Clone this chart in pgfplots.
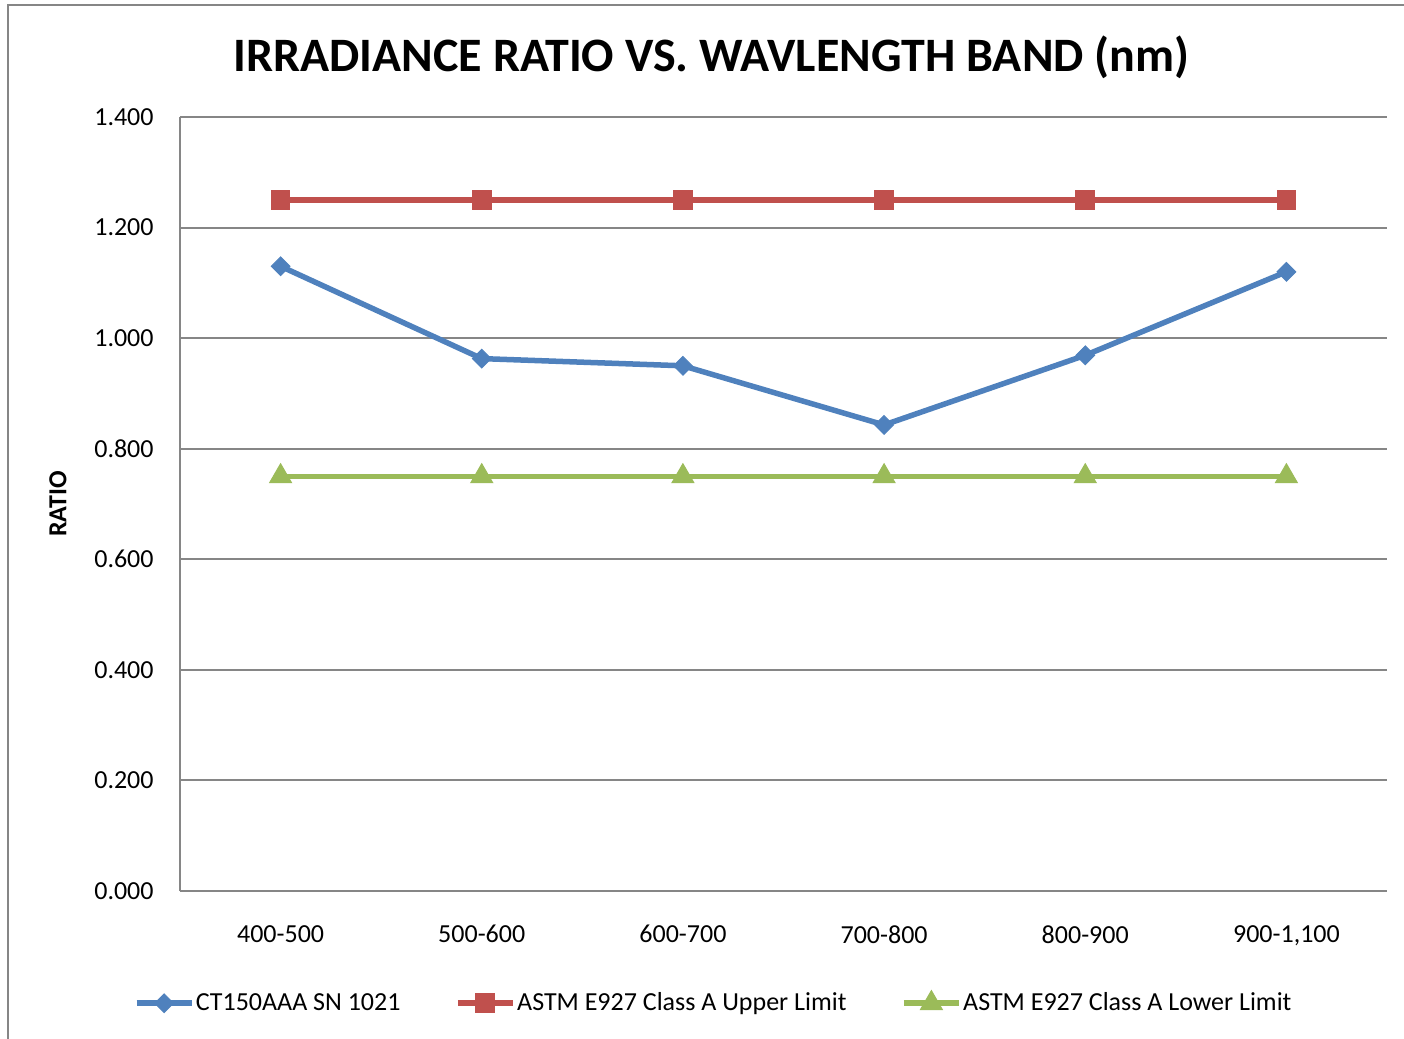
\documentclass[border=0pt]{standalone}
\usepackage{pgfplots}
\pgfplotsset{compat=1.18}
\usepackage{fontspec}
\setmainfont{Carlito}
\definecolor{xlblue}{RGB}{79,129,189}
\definecolor{xlred}{RGB}{192,80,77}
\definecolor{xlgreen}{RGB}{155,187,89}
\definecolor{xlgrid}{RGB}{134,134,134}
\begin{document}
\begin{tikzpicture}
  % one pixel of the reference = 0.5pt, origin at its top left corner
  \path[use as bounding box] (0pt,0pt) rectangle (702pt,-519.5pt);
  \draw[xlgrid, line width=1pt] (4pt,-519.5pt) -- (4pt,-2.5pt) -- (702pt,-2.5pt);
  \node[font=\fontsize{24}{28}\selectfont\bfseries] at (355.75pt,-28.5pt)
    {IRRADIANCE RATIO VS. WAVLENGTH BAND (nm)};
  \node[font=\fontsize{13}{15}\selectfont\bfseries, rotate=90] at (29pt,-252pt) {RATIO};
  \begin{axis}[
      at={(90pt,-445.5pt)}, anchor=south west,
      scale only axis,
      width=603.5pt, height=387pt,
      xmin=-0.5, xmax=5.5,
      ymin=0, ymax=1.4,
      xtick={0,1,2,3,4,5},
      xticklabels={400-500,500-600,600-700,700-800,800-900,{900-1,100}},
      ytick={0,0.2,0.4,0.6,0.8,1.0,1.2,1.4},
      /pgf/number format/fixed,
      /pgf/number format/fixed zerofill,
      /pgf/number format/precision=3,
      /pgf/number format/assume math mode=true,
      ticklabel style={font=\fontsize{13}{15}\selectfont},
      yticklabel style={inner sep=0pt, anchor=east, xshift=-13pt},
      xticklabel style={inner sep=0pt, anchor=north, yshift=-17pt},
      major tick length=0pt,
      axis x line*=bottom, axis y line*=left,
      axis line style={draw=xlgrid, line width=1pt, -},
      ymajorgrids,
      grid style={xlgrid, line width=1pt},
      legend columns=3,
      legend style={at={(0.442,-0.1447)}, anchor=center, draw=none,
        font=\fontsize{13}{15}\selectfont,
        nodes={inner sep=0.8pt},
        /tikz/every even column/.append style={column sep=26.5pt}},
      legend image code/.code={%
        \draw[mark repeat=2, mark phase=2, #1]
          plot coordinates {(0pt,0pt) (13.75pt,0pt) (27.5pt,0pt)};},
    ]
    \addplot[xlblue, line width=2.75pt, mark=square*,
      mark options={solid, rotate=45, fill=xlblue, line width=0.5pt}, mark size=3.3pt]
      coordinates {(0,1.130) (1,0.963) (2,0.950) (3,0.843) (4,0.969) (5,1.120)};
    \addlegendentry{CT150AAA SN 1021}
    \addplot[xlred, line width=2.75pt, mark=square*,
      mark options={solid, fill=xlred, line width=0.5pt}, mark size=4.7pt]
      coordinates {(0,1.25) (1,1.25) (2,1.25) (3,1.25) (4,1.25) (5,1.25)};
    \addlegendentry{ASTM E927 Class A Upper Limit}
    \addplot[xlgreen, line width=2.75pt, mark=triangle*,
      mark options={solid, fill=xlgreen, line width=0.5pt}, mark size=6.3pt]
      coordinates {(0,0.75) (1,0.75) (2,0.75) (3,0.75) (4,0.75) (5,0.75)};
    \addlegendentry{ASTM E927 Class A Lower Limit}
  \end{axis}
\end{tikzpicture}
\end{document}
